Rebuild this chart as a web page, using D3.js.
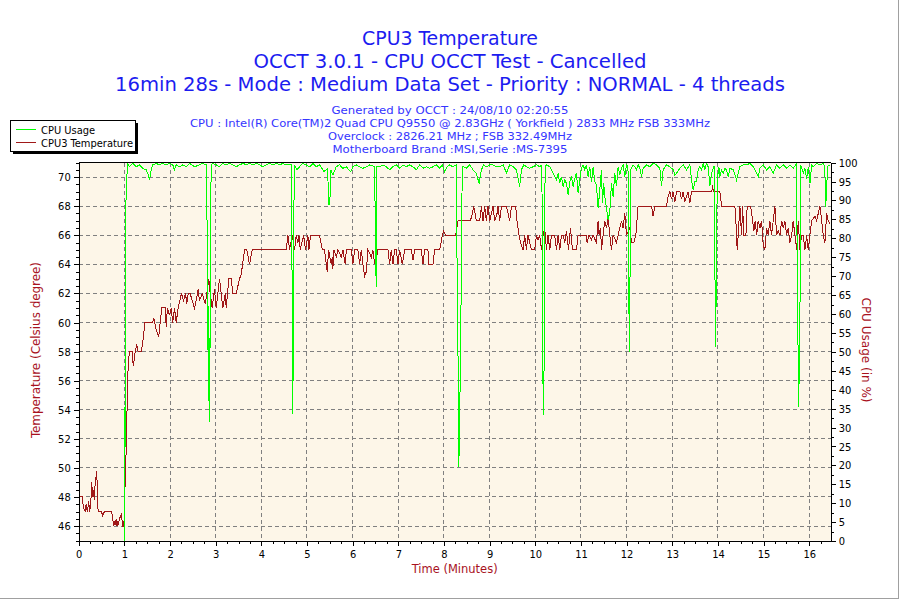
<!DOCTYPE html>
<html><head><meta charset="utf-8">
<script src="https://cdn.jsdelivr.net/npm/d3@7"></script>
<style>
body{margin:0;background:#fff}
svg{display:block}
text{font-family:"DejaVu Sans Condensed","DejaVu Sans",sans-serif}
</style>
</head><body><svg id="c" width="900" height="600"></svg>
<script>
// ---------- text ----------
const titleLines = ["CPU3 Temperature", "OCCT 3.0.1 - CPU OCCT Test - Cancelled",
  "16min 28s - Mode : Medium Data Set - Priority : NORMAL - 4 threads"];
const infoLines = ["Generated by OCCT : 24/08/10 02:20:55",
  "CPU : Intel(R) Core(TM)2 Quad CPU Q9550 @ 2.83GHz ( Yorkfield ) 2833 MHz FSB 333MHz",
  "Overclock : 2826.21 MHz ; FSB 332.49MHz",
  "Motherboard Brand :MSI,Serie :MS-7395"];
const seriesNames = ["CPU Usage", "CPU3 Temperature"];
const xTitle = "Time (Minutes)";
const yLeftTitle = "Temperature (Celsius degree)";
const yRightTitle = "CPU Usage (in %)";

// ---------- ticks ----------
const timeTicks = d3.range(0, 17, 1);
const tempTicks = d3.range(46, 71, 2);
const usageTicks = d3.range(0, 101, 5);

// ---------- data: [minutes, value] ----------
const temperature = [[0,48],[0.075,48],[0.103,47.3],[0.14,47],[0.162,47.5],[0.19,47],[0.219,47.7],[0.241,47],[0.256,47.3],[0.272,48],[0.285,49],[0.307,48],[0.329,48.5],[0.338,47.8],[0.351,48.6],[0.395,49.8],[0.41,48.3],[0.425,47],[0.498,47],[0.526,46.7],[0.563,47],[0.723,47],[0.767,46],[0.798,46.4],[0.82,46],[0.833,46.5],[0.855,46],[0.892,46.5],[0.936,46.8],[0.964,46],[0.99,46],[1.0,47.4],[1.03,50],[1.061,54.3],[1.083,57],[1.111,58],[1.17,58],[1.185,57.3],[1.199,57],[1.236,58],[1.271,58.5],[1.302,58],[1.374,58],[1.418,59],[1.447,60],[1.622,60],[1.644,60.3],[1.696,59.5],[1.753,59],[1.784,60],[1.819,61],[1.9,61],[1.916,59.7],[1.944,61],[1.988,60.5],[2.025,61],[2.06,60],[2.098,61],[2.135,60],[2.179,61],[2.251,62],[2.295,61.5],[2.339,62],[2.367,61.3],[2.398,62],[2.442,62],[2.485,61.5],[2.536,61],[2.573,61.5],[2.617,62.3],[2.645,61.5],[2.705,62],[2.77,61.3],[2.799,61.8],[2.849,63],[2.88,62],[2.924,61],[2.974,62.3],[3.011,61],[3.047,62],[3.084,63],[3.121,62],[3.156,61],[3.209,62],[3.231,61],[3.288,63],[3.34,63],[3.375,62],[3.45,62],[3.522,63],[3.559,63.3],[3.632,65],[3.682,65],[3.741,64],[3.8,65],[4.545,65],[4.582,66],[4.618,65],[4.677,66],[4.728,65],[4.764,66],[4.801,65.5],[4.823,66],[4.852,65],[4.925,66],[4.969,65],[5.02,66],[5.042,65],[5.078,66],[5.276,66],[5.335,65],[5.385,65],[5.422,64],[5.444,63.5],[5.473,65],[5.532,64],[5.554,64.5],[5.567,63.7],[5.589,65],[5.642,64.5],[5.677,65],[5.751,64.5],[5.786,65],[5.839,64],[5.861,65],[5.97,65],[6.005,64],[6.043,65],[6.115,65],[6.152,64],[6.19,65],[6.225,64],[6.262,63.2],[6.299,63.5],[6.334,65],[6.409,64.5],[6.444,65],[6.481,64],[6.518,64.3],[6.553,65],[6.773,65],[6.81,64],[6.847,65],[6.882,64],[6.919,65],[6.957,65],[6.992,64],[7.029,65],[7.088,64],[7.139,65],[7.285,65],[7.321,64.3],[7.358,65],[7.505,65],[7.54,64],[7.577,65],[7.649,65],[7.671,64],[7.759,64],[7.796,65],[7.906,65],[7.965,66],[7.994,66.3],[8.037,66],[8.256,66],[8.307,67],[8.579,67],[8.623,67.5],[8.652,68],[8.71,67],[8.782,67],[8.82,68],[8.855,67],[8.892,68],[8.929,67],[8.965,68],[9.002,67],[9.074,68],[9.111,67],[9.162,67.5],[9.184,68],[9.221,67],[9.258,68],[9.368,68],[9.44,67],[9.477,68],[9.571,68],[9.6,67],[9.644,66],[9.675,65.5],[9.732,65],[9.769,66],[9.806,65],[9.841,66],[9.916,65],[9.988,65],[10.025,66],[10.06,65.7],[10.097,66],[10.135,65],[10.17,66],[10.207,66.5],[10.244,65],[10.279,66],[10.317,65],[10.354,66],[10.426,66],[10.464,65],[10.499,66],[10.536,65],[10.573,66],[10.608,66],[10.646,65.5],[10.683,66.3],[10.727,65],[10.77,66.5],[10.814,65],[10.902,65],[10.937,66],[11.121,66],[11.134,65.5],[11.178,66],[11.231,65.7],[11.266,66],[11.34,65.5],[11.375,67],[11.397,66],[11.428,66.5],[11.45,65],[11.485,66],[11.522,67],[11.559,66.5],[11.595,67.2],[11.632,66],[11.669,65],[11.704,66],[11.779,65.5],[11.814,66],[11.888,67],[11.923,66.5],[11.96,67.5],[11.998,66],[12.07,66.5],[12.107,65.5],[12.158,65.5],[12.202,66],[12.252,68],[12.546,68],[12.581,67.3],[12.618,68],[12.875,68],[12.91,68.7],[12.947,69],[12.984,68.5],[13.019,69],[13.057,68.3],[13.094,69],[13.166,69],[13.203,68.5],[13.238,69],[13.276,68.3],[13.313,68.7],[13.348,69],[13.385,68.2],[13.423,69],[13.861,69],[13.883,69.3],[13.911,69],[14.043,69],[14.08,68],[14.371,68],[14.393,67],[14.422,65],[14.444,66],[14.481,68],[14.518,66],[14.54,68],[14.569,66],[14.613,66],[14.641,68],[14.716,68],[14.76,67],[14.788,66.3],[14.816,67],[14.847,66],[14.882,67],[14.92,66.5],[14.957,67],[14.992,65.3],[15.029,65],[15.066,66.5],[15.101,66],[15.138,67],[15.175,66],[15.211,67],[15.248,68],[15.285,66],[15.32,66.3],[15.358,66],[15.395,67],[15.43,66.5],[15.467,67],[15.504,66],[15.54,66.5],[15.577,65.5],[15.614,66],[15.649,67],[15.687,66],[15.724,65],[15.759,67],[15.796,65],[15.833,66],[15.869,66],[15.906,65],[15.943,66],[15.978,65],[16.015,66],[16.052,67],[16.125,67.3],[16.162,67],[16.197,67.5],[16.234,68],[16.272,67],[16.307,66],[16.344,65.5],[16.381,67.5],[16.416,67],[16.453,66.8]];

const cpuUsage = [[0,0],[1.0,0],[1.005,35.3],[1.012,0],[1.02,77.8],[1.04,92.8],[1.07,99.8],[1.111,98.9],[1.184,99.8],[1.258,98.9],[1.33,99.4],[1.403,98.5],[1.477,98.1],[1.512,97.2],[1.55,95.4],[1.587,98.1],[1.622,99.4],[1.696,99.8],[1.769,99.4],[1.84,99.8],[1.916,99.4],[1.99,99.8],[2.06,99.4],[2.098,98.1],[2.135,99.4],[2.207,98.9],[2.279,99.4],[2.354,98.9],[2.426,99.8],[2.536,98.9],[2.645,99.4],[2.718,99.8],[2.8,99.4],[2.82,71],[2.84,37],[2.85,62],[2.865,31.5],[2.885,67],[2.9,99.4],[2.937,99.8],[3.011,99.4],[3.084,98.9],[3.156,99.8],[3.231,99.4],[3.303,99.8],[3.375,99.4],[3.45,98.9],[3.522,99.4],[3.6,99.8],[3.669,99.4],[3.741,99.8],[3.814,99.4],[3.9,99.8],[3.961,99.4],[4.033,98.9],[4.107,99.4],[4.18,99.8],[4.252,99.4],[4.33,99.8],[4.399,99.4],[4.47,99.8],[4.546,99.4],[4.655,99.4],[4.675,66.3],[4.69,33.7],[4.705,66],[4.72,99.4],[4.778,98.1],[4.837,98.9],[4.91,99.8],[4.984,99.4],[5.06,98.9],[5.13,99.8],[5.2,98.9],[5.28,99.4],[5.37,97.6],[5.455,98.5],[5.47,88.8],[5.5,88.8],[5.52,98.1],[5.568,96.7],[5.641,98.9],[5.714,99.4],[5.787,98.5],[5.86,98.9],[5.955,97.6],[6.006,98.9],[6.08,99.4],[6.152,98.9],[6.226,98.5],[6.299,98.9],[6.372,99.4],[6.48,99],[6.5,80],[6.515,67.2],[6.53,99],[6.591,98.9],[6.664,99.4],[6.737,98.9],[6.81,98.1],[6.883,98.9],[6.956,99.4],[7.029,98.5],[7.102,99.4],[7.175,98.9],[7.248,99.4],[7.321,98.9],[7.395,98.1],[7.468,99.4],[7.541,98.5],[7.614,98.9],[7.687,98.5],[7.76,98.9],[7.833,99.4],[7.906,98.5],[7.96,99.4],[8.016,97.6],[8.07,98.9],[8.125,99.4],[8.19,98.9],[8.27,99.4],[8.295,60],[8.31,47],[8.325,19.6],[8.34,29],[8.36,47],[8.38,70],[8.4,99],[8.437,98.9],[8.49,98.5],[8.563,99.4],[8.636,98.1],[8.709,97.2],[8.768,94.5],[8.819,98.1],[8.87,99.4],[8.929,98.9],[9.0,99.4],[9.075,99.4],[9.15,98.9],[9.221,98.9],[9.3,99.4],[9.367,97.2],[9.44,99.4],[9.513,98.9],[9.586,98.1],[9.659,93.7],[9.696,98.1],[9.75,99.4],[9.805,98.9],[9.878,98.5],[9.951,98.9],[10.025,99.4],[10.098,98.9],[10.145,99.4],[10.16,49],[10.18,33.3],[10.195,49.2],[10.215,99],[10.244,99.4],[10.317,98.9],[10.39,97.2],[10.463,95.4],[10.5,97.2],[10.536,94.5],[10.573,96.3],[10.609,93.7],[10.646,95.4],[10.682,94.5],[10.719,91.5],[10.755,95],[10.792,96.3],[10.828,93.7],[10.865,95.8],[10.901,97.2],[10.938,91.9],[10.974,95.4],[11.011,98.5],[11.047,99.4],[11.084,98.1],[11.12,99.4],[11.157,96.3],[11.194,98.9],[11.23,95],[11.267,98.9],[11.303,95],[11.34,94.1],[11.376,87.9],[11.413,92.8],[11.449,98.1],[11.471,89.2],[11.5,94.5],[11.522,91],[11.559,87.9],[11.595,84.9],[11.632,87],[11.668,94.5],[11.705,91],[11.741,97.2],[11.778,93.7],[11.815,98.9],[11.851,96.7],[11.888,98.5],[11.924,99.4],[11.961,96.3],[11.997,99.4],[12.03,99],[12.045,70],[12.06,50],[12.075,70],[12.09,98.1],[12.143,99.4],[12.18,98.9],[12.216,98.1],[12.253,99.4],[12.29,98.5],[12.326,96.3],[12.363,98.5],[12.436,99.4],[12.509,98.9],[12.582,99.8],[12.655,99.4],[12.728,98.5],[12.764,93.7],[12.801,98.1],[12.874,99.4],[12.947,98.9],[13.02,98.1],[13.057,96.7],[13.093,97.2],[13.166,98.5],[13.239,99.4],[13.312,98.1],[13.385,99.4],[13.422,95.4],[13.458,92.8],[13.495,95],[13.531,95],[13.568,98.1],[13.604,98.9],[13.641,98.1],[13.678,99.8],[13.714,98.1],[13.751,99.8],[13.787,98.9],[13.824,93.7],[13.86,97.2],[13.915,99],[13.935,70.3],[13.95,51.4],[13.965,70],[13.985,95.4],[14.02,98.9],[14.043,96.3],[14.079,98.1],[14.116,97.2],[14.152,98.5],[14.189,98.1],[14.225,96.3],[14.262,98.5],[14.335,98.1],[14.408,95.4],[14.445,97.2],[14.481,98.9],[14.554,99.4],[14.627,99.4],[14.7,99.8],[14.773,98.9],[14.847,97.2],[14.883,96.3],[14.92,98.5],[14.993,99.4],[15.066,98.1],[15.139,98.9],[15.212,97.2],[15.285,99.4],[15.358,98.5],[15.431,99.4],[15.504,98.5],[15.577,99.4],[15.65,98.5],[15.723,99.8],[15.74,65],[15.755,51],[15.77,35.3],[15.785,51],[15.8,65],[15.815,99.4],[15.869,97.2],[15.906,98.5],[15.942,95.8],[15.979,98.9],[16.015,94.5],[16.052,99.4],[16.088,98.9],[16.161,99.8],[16.234,99.4],[16.307,99.8],[16.34,99],[16.36,88.4],[16.38,92.3],[16.4,99],[16.467,99.4]];

// ---------- drawing ----------
const W = 900, H = 600;
const L = 78.7, R = 830.7, T = 162.6, B = 540.6;
const svg = d3.select("#c");

const x = d3.scaleLinear().domain([0, 16.47]).range([L, R]);
const yT = d3.scaleLinear().domain([45, 71]).range([B, T]);
const yC = d3.scaleLinear().domain([0, 100]).range([B + 0.5, T]);

svg.append("rect").attr("width", W).attr("height", H).attr("fill", "#fff");
// outer frame (gray right/bottom)
svg.append("line").attr("x1", 898.5).attr("x2", 898.5).attr("y1", 0).attr("y2", 599)
  .attr("stroke", "#a0a0a0");
svg.append("line").attr("x1", 0).attr("x2", 899).attr("y1", 598.5).attr("y2", 598.5)
  .attr("stroke", "#a0a0a0");

// plot background
svg.append("rect").attr("x", L).attr("y", T).attr("width", R - L).attr("height", B - T)
  .attr("fill", "#fdf6e8");

// grid
const grid = svg.append("g").attr("stroke", "#808080").attr("stroke-dasharray", "4,3")
  .attr("shape-rendering", "crispEdges");
grid.selectAll(".gx").data(timeTicks.filter(d => d > 0)).join("line")
  .attr("x1", d => x(d)).attr("x2", d => x(d)).attr("y1", T).attr("y2", B);
grid.selectAll(".gy").data(tempTicks).join("line")
  .attr("x1", L).attr("x2", R).attr("y1", d => yT(d)).attr("y2", d => yT(d));

// series
const tempLine = d3.line().x(d => x(d[0])).y(d => yT(d[1]));
const cpuLine = d3.line().x(d => x(d[0])).y(d => yC(d[1]));
svg.append("path").datum(temperature).attr("d", tempLine).attr("fill", "none")
  .attr("stroke", "#a01818").attr("stroke-width", 1).attr("shape-rendering", "crispEdges");
svg.append("path").datum(cpuUsage).attr("d", cpuLine).attr("fill", "none")
  .attr("stroke", "#00ff00").attr("stroke-width", 1).attr("shape-rendering", "crispEdges");

// axes
function styleAxis(g) {
  g.attr("shape-rendering", "crispEdges");
  g.selectAll("path,line").attr("stroke", "#000");
  g.selectAll("text").attr("font-family", '"DejaVu Sans Condensed","DejaVu Sans",sans-serif')
    .attr("font-size", 11).attr("fill", "#000");
}
const ax = svg.append("g").attr("transform", `translate(0,${B})`)
  .call(d3.axisBottom(x).tickValues(timeTicks).tickSize(5).tickSizeOuter(0).tickPadding(5));
svg.append("g").attr("transform", `translate(0,${B})`)
  .call(d3.axisBottom(x).tickValues(d3.range(0, 16.47, 0.25)).tickSize(3).tickSizeOuter(0).tickFormat(""))
  .call(styleAxis);
styleAxis(ax);

const al = svg.append("g").attr("transform", `translate(${L},0)`)
  .call(d3.axisLeft(yT).tickValues(tempTicks).tickSize(5).tickSizeOuter(0).tickPadding(3));
svg.append("g").attr("transform", `translate(${L},0)`)
  .call(d3.axisLeft(yT).tickValues(d3.range(45, 71.01, 0.5)).tickSize(3).tickSizeOuter(0).tickFormat(""))
  .call(styleAxis);
styleAxis(al);

const ar = svg.append("g").attr("transform", `translate(${R},0)`)
  .call(d3.axisRight(yC).tickValues(usageTicks).tickSize(5).tickSizeOuter(0).tickPadding(3));
svg.append("g").attr("transform", `translate(${R},0)`)
  .call(d3.axisRight(yC).tickValues(d3.range(0, 100.01, 2.5)).tickSize(3).tickSizeOuter(0).tickFormat(""))
  .call(styleAxis);
styleAxis(ar);

// top border
svg.append("line").attr("x1", L).attr("x2", R).attr("y1", T).attr("y2", T)
  .attr("stroke", "#000").attr("shape-rendering", "crispEdges");

// helper to fit text width
function fit(sel, w) { sel.attr("textLength", w).attr("lengthAdjust", "spacingAndGlyphs"); return sel; }

// titles
const titleY = [45, 68, 91], titleW = [176, 393, 670];
titleLines.forEach((t, i) => {
  fit(svg.append("text").attr("x", 450).attr("y", titleY[i]).attr("text-anchor", "middle")
    .attr("font-size", 20).attr("fill", "#1c1cf0").text(t), titleW[i]);
});
const infoY = [114, 127, 140, 153], infoW = [237, 520, 244, 235];
infoLines.forEach((t, i) => {
  fit(svg.append("text").attr("x", 450).attr("y", infoY[i]).attr("text-anchor", "middle")
    .attr("font-size", 11).attr("fill", "#3535ff").text(t), infoW[i]);
});

// axis titles
const axisRed = "#a8121e";
fit(svg.append("text").attr("x", (L + R) / 2).attr("y", 573).attr("text-anchor", "middle")
  .attr("font-size", 12).attr("fill", axisRed).text(xTitle), 86);
fit(svg.append("text").attr("transform", "translate(40,350) rotate(-90)").attr("text-anchor", "middle")
  .attr("font-size", 12).attr("fill", axisRed).text(yLeftTitle), 176);
fit(svg.append("text").attr("transform", "translate(862,350) rotate(90)").attr("text-anchor", "middle")
  .attr("font-size", 12).attr("fill", axisRed).text(yRightTitle), 105);

// legend
const lg = svg.append("g");
lg.append("rect").attr("x", 13).attr("y", 123).attr("width", 125).attr("height", 31).attr("fill", "#000");
lg.append("rect").attr("x", 10.5).attr("y", 120.5).attr("width", 125).attr("height", 31)
  .attr("fill", "#fff").attr("stroke", "#000").attr("shape-rendering", "crispEdges");
const legColors = ["#00ff00", "#a01818"];
seriesNames.forEach((n, i) => {
  const yy = 129.5 + i * 13;
  lg.append("line").attr("x1", 16).attr("x2", 36).attr("y1", yy).attr("y2", yy)
    .attr("stroke", legColors[i]).attr("shape-rendering", "crispEdges");
  lg.append("text").attr("x", 41).attr("y", yy + 4).attr("font-size", 11).attr("fill", "#000").text(n);
});
</script></body></html>
